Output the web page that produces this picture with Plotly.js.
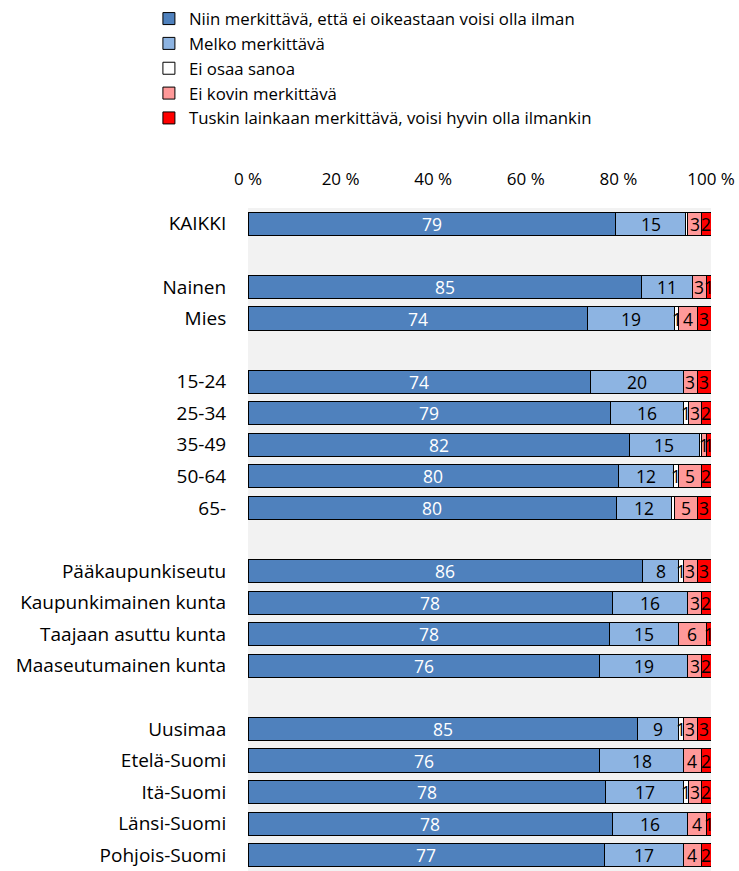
<!DOCTYPE html>
<html>
<head>
<meta charset="utf-8">
<script src="https://cdn.plot.ly/plotly-3.0.1.min.js"></script>
<style>html,body{margin:0;padding:0;background:#fff;}#chart{width:739px;height:871px;}</style>
</head>
<body>
<div id="chart"></div>
<script>
var categories = ["KAIKKI", " ", "Nainen", "Mies", "  ", "15-24", "25-34", "35-49", "50-64", "65-", "   ",
  "Pääkaupunkiseutu", "Kaupunkimainen kunta", "Taajaan asuttu kunta", "Maaseutumainen kunta", "    ",
  "Uusimaa", "Etelä-Suomi", "Itä-Suomi", "Länsi-Suomi", "Pohjois-Suomi"];

var seriesNames = ["Niin merkittävä, että ei oikeastaan voisi olla ilman", "Melko merkittävä", "Ei osaa sanoa",
  "Ei kovin merkittävä", "Tuskin lainkaan merkittävä, voisi hyvin olla ilmankin"];

var niinMerkittava = [79, null, 85, 74, null, 74, 79, 82, 80, 80, null, 86, 78, 78, 76, null, 85, 76, 78, 78, 77];
var melkoMerkittava = [15, null, 11, 19, null, 20, 16, 15, 12, 12, null, 8, 16, 15, 19, null, 9, 18, 17, 16, 17];
var eiOsaaSanoa = [0.4, null, 0, 1, null, 0, 1, 0.5, 1, 0.5, null, 1, 0, 0, 0, null, 1, 0, 1, 0, 0];
var eiKovinMerkittava = [3, null, 3, 4, null, 3, 3, 1, 5, 5, null, 3, 3, 6, 3, null, 3, 4, 3, 4, 4];
var tuskinLainkaan = [2, null, 1, 3, null, 3, 2, 1, 2, 3, null, 3, 2, 1, 2, null, 3, 2, 2, 1, 2];

var xTickVals = [0, 20, 40, 60, 80, 100];
var xTickText = ["0 %", "20 %", "40 %", "60 %", "80 %", "100 %"];

var colors = ["#4f81bd", "#8db4e2", "#ffffff", "#ff9999", "#ff0000"];
var labelColors = ["#ffffff", "#000000", "#000000", "#000000", "#000000"];
var allSeries = [niinMerkittava, melkoMerkittava, eiOsaaSanoa, eiKovinMerkittava, tuskinLainkaan];

var FONT = "'Open Sans', 'Noto Sans', sans-serif";

var traces = allSeries.map(function (vals, k) {
  return {
    type: "bar",
    orientation: "h",
    name: seriesNames[k],
    y: categories,
    x: vals,
    marker: {color: colors[k], line: {color: "#000000", width: 1}},
    hoverinfo: "name+x"
  };
});

var annotations = [];
categories.forEach(function (cat, i) {
  var total = 0;
  allSeries.forEach(function (s) { total += (s[i] || 0); });
  if (!total) return;
  var cum = 0;
  allSeries.forEach(function (s, k) {
    var v = s[i] || 0;
    if (v >= 1) {
      annotations.push({
        x: (cum + v / 2) / total * 100,
        y: cat,
        xref: "x", yref: "y",
        text: String(Math.round(v)),
        showarrow: false,
        xanchor: "center", yanchor: "middle",
        borderpad: 0,
        font: {family: FONT, size: 17.5, color: labelColors[k]}
      });
    }
    cum += v;
  });
});

var layout = {
  width: 739, height: 871,
  margin: {l: 248, r: 28, t: 208, b: 0, pad: 0},
  paper_bgcolor: "#ffffff",
  plot_bgcolor: "#f2f2f2",
  barmode: "stack",
  barnorm: "percent",
  bargap: 0.27,
  showlegend: true,
  legend: {
    x: -0.214, xanchor: "left", y: 1.312, yanchor: "top",
    orientation: "v", traceorder: "normal",
    font: {family: FONT, size: 16.8, color: "#000"},
    bgcolor: "rgba(0,0,0,0)", itemclick: false,
    tracegroupgap: 0
  },
  xaxis: {
    side: "top", range: [0, 100], fixedrange: true,
    tickvals: xTickVals, ticktext: xTickText,
    showgrid: false, zeroline: false, showline: false,
    ticks: "outside", ticklen: 15, tickcolor: "rgba(0,0,0,0)",
    tickfont: {family: FONT, size: 17, color: "#000"}
  },
  yaxis: {
    type: "category", categoryorder: "array", categoryarray: categories,
    autorange: "reversed", fixedrange: true,
    showgrid: false, zeroline: false, showline: false,
    ticks: "outside", ticklen: 17, tickcolor: "rgba(0,0,0,0)",
    tickfont: {family: FONT, size: 19, color: "#000"}
  },
  annotations: annotations
};

Plotly.newPlot("chart", traces, layout, {displayModeBar: false, staticPlot: true});
</script>
</body>
</html>
